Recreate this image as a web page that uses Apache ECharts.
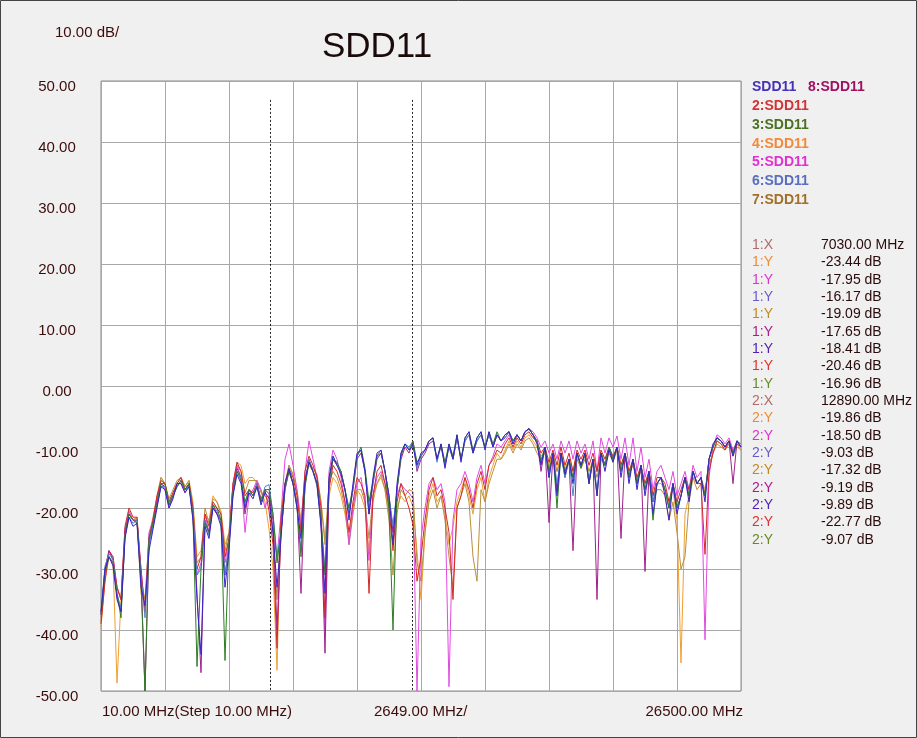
<!DOCTYPE html>
<html>
<head>
<meta charset="utf-8">
<script src="https://cdn.jsdelivr.net/npm/echarts@6/dist/echarts.min.js"></script>
<style>
html,body{margin:0;padding:0;background:#f0f0f0;}
#chart{width:917px;height:738px;}
</style>
</head>
<body>
<div id="chart"></div>
<script>
// Frequency grid (MHz): 10 MHz start, 161 samples across the 26490 MHz span
const freqStartMHz = 10;
const freqStopMHz = 26500;
const sampleCount = 161;

// Y axis tick labels (dB)
const yTicks = [50, 40, 30, 20, 10, 0, -10, -20, -30, -40, -50];

// Marker frequencies (MHz)
const marker1MHz = 7030;
const marker2MHz = 12890;

// Trace values (dB)
const sdd11_1 = [
-37,-30,-28,-29.5,-35,-37,-25,-21.5,-23,-22.5,
-33,-36,-27,-23.5,-20,-16.5,-17,-20,-18.5,-16,
-16,-17.5,-16.5,-22,-35,-44,-23,-25,-20,-21,
-23,-33,-27,-18,-14.5,-16,-20,-17.5,-18.5,-16.5,
-19.5,-17.5,-18.41,-24,-33,-25,-16,-13.5,-16,-20,
-25,-15.5,-12.5,-14,-16,-23,-34,-15,-11.5,-13,
-14.5,-17,-22,-16,-11,-10.5,-14,-21,-15,-11,
-10.5,-14,-18,-26,-16,-11,-9.5,-10.5,-9.89,-13,
-11,-10.5,-9,-8.5,-12,-9.5,-13.5,-9.5,-12,-8,
-12.5,-8.5,-7.5,-11,-8.5,-7.5,-10.5,-7.5,-10,-8,
-9,-8,-7.5,-9.5,-8,-9,-7.5,-7,-8,-9.5,
-13,-10,-15,-11,-18,-11,-14.5,-12,-16,-11,
-13,-11,-16,-12,-18,-11,-14,-10.5,-12.5,-10,
-15,-11,-16,-12,-17,-13,-18,-14,-21,-16,
-15,-18,-22,-16,-21,-18,-15,-19,-14,-16,
-15,-19,-12,-9.5,-8.5,-9,-10,-9,-11.5,-9,-10
];
const sdd11_2 = [
-39,-32,-27,-28,-33,-35,-23,-20,-21.5,-21.5,
-30,-37,-25,-22,-18,-15.5,-16,-19,-17.5,-16,
-15,-17,-16,-20,-30,-28,-21,-23,-19,-20,
-21,-28,-25,-16,-12.5,-14,-18,-17,-17.5,-16,
-18.5,-17,-20.46,-26,-43,-22,-16,-13.5,-15,-18,
-24,-14,-11.5,-13,-15,-20,-38,-17,-13,-14,
-16,-19,-24,-19,-15,-16,-18,-34,-18,-14,
-13,-16,-20,-27,-19,-16,-18,-20,-22.77,-32,
-28,-22,-17,-15,-18,-17,-20,-24,-35,-20,
-18,-15,-17,-20,-16,-14,-17,-13,-12,-10.5,
-11,-9.5,-8.5,-10,-8.5,-9.5,-8,-7.5,-8.5,-9,
-11,-10,-12.5,-10.5,-13,-10,-13,-11,-14,-10.5,
-12,-10.5,-13,-11,-14,-10.5,-12,-10,-11.5,-10,
-13,-11,-14,-12,-15,-13,-16,-14,-18,-15,
-15,-16,-19,-16,-19,-17,-15,-17,-14,-16,
-16,-27.6,-14,-11,-9,-9.5,-10.5,-9,-11,-9.5,-10
];
const sdd11_3 = [
-37.5,-30.5,-28,-29,-34,-38,-24.5,-21,-22,-22.5,
-32,-50,-25,-22.5,-19.5,-16,-16,-19.5,-18,-16.5,
-15.5,-17,-16,-21.5,-46,-30,-22.5,-24,-19.5,-20,
-22,-45,-25,-17.5,-14,-15.5,-19,-17,-18,-16.5,
-19,-17,-16.96,-21,-29,-24,-16.5,-14,-16,-20,
-28,-16.5,-12.5,-14,-16,-22,-31,-15.5,-12,-12.5,
-14,-17,-20,-16.5,-11.5,-10,-13.5,-19,-15.5,-11.5,
-11,-14,-20,-40,-17,-11.5,-9.5,-10.5,-9.07,-12.5,
-11.5,-10.5,-9,-8.5,-12,-9.5,-12.5,-9.5,-11.5,-8,
-12,-8.5,-7.5,-10.5,-8.5,-7.5,-10,-7.5,-9.5,-7.5,
-9,-8,-7.5,-9,-8,-9,-7.5,-7,-8,-9,
-12.5,-10,-14,-11,-20,-11,-14,-12,-15,-11,
-13.5,-11,-16,-12,-18,-11,-13,-10,-12,-10,
-14,-11,-15,-12,-16,-13,-17,-14,-22,-16,
-15,-17,-20,-16,-20,-18,-15,-18,-14,-16,
-15,-18,-12,-10,-8.5,-9,-10,-9,-11,-9,-10
];
const sdd11_4 = [
-39.5,-32,-28,-29,-48.7,-35,-24,-20.5,-22,-21.5,
-34,-36,-25,-22,-18.5,-15,-16,-19,-17.5,-16,
-15,-16.5,-15.5,-19,-28,-27,-21,-22,-18,-19,
-20.5,-26,-24,-16,-12.5,-13,-16,-15,-15,-16,
-17,-19,-23.44,-30,-46.6,-21,-16,-13,-14.5,-17,
-22,-15,-13,-14,-15,-19,-25,-18,-15,-16,
-18,-21,-25,-20,-17,-18,-20,-27,-19,-16,
-15,-17,-21,-26,-20,-18,-19,-18,-19.86,-27,
-35,-24,-18,-16,-19,-18,-21,-26,-23,-19,
-17,-15,-18,-21,-17,-15,-19,-15,-13,-11,
-12,-10.5,-9,-10.5,-9,-10,-8.5,-8,-9,-10,
-11.5,-10.5,-13,-11,-14,-11,-13.5,-12,-14,-11,
-13,-11,-14,-12,-14,-11,-12,-10.5,-12,-10,
-13,-11,-14,-12.5,-15,-13.5,-16,-14,-18,-16,
-16,-17,-19,-17,-22,-45.4,-21,-18,-15,-16,
-15,-17,-13,-11,-9,-9.5,-10,-9,-11,-9.5,-10.5
];
const sdd11_5 = [
-38,-30,-27,-28,-33,-35,-23.5,-20.5,-22,-22,
-30,-37,-24,-22,-18.5,-16,-17,-20,-18,-16,
-16,-17.5,-16,-22,-31,-29,-21,-24,-20,-21,
-22,-29,-25,-16,-13,-15,-24,-18,-17,-15.5,
-17,-20,-17.95,-24,-28,-21,-12,-9.5,-13,-17,
-23,-14,-9,-12,-15,-22,-40,-14,-10.5,-12,
-15,-19,-26,-20,-16,-15,-19,-28.6,-18,-15,
-14,-16,-19,-23,-18,-16,-17,-17.5,-18.5,-50,
-25,-20,-16,-15,-17,-16,-19,-49.3,-22,-17,
-16,-14,-16,-19,-15,-13,-16,-13,-11.5,-9.5,
-10,-9,-8,-9.5,-8,-9,-7.5,-7,-7.5,-8.5,
-10,-9,-11,-9.5,-12,-9,-11,-9,-12,-9,
-11,-9.5,-12,-9,-14,-8.5,-11,-8.5,-10,-8.2,
-12,-8.5,-13,-8.5,-14,-10,-15,-12,-17,-14,
-13,-15,-17,-14,-18,-16,-14,-17,-13,-15,
-14,-41.6,-15,-10,-8,-8.5,-9.5,-8.5,-10.5,-9,-9.5
];
const sdd11_6 = [
-37,-29.5,-27.5,-28.5,-34,-36.5,-24.5,-21.5,-22.5,-22,
-31,-38,-26,-23,-19.5,-16.5,-16.5,-19,-18,-16.5,
-15.5,-17,-16.5,-21,-31,-30,-22,-24.5,-19.5,-20.5,
-22.5,-31,-26,-17.5,-14,-15,-19.5,-17,-18,-16,
-19,-16.5,-16.17,-21,-28,-24,-17,-13.5,-16,-19.5,
-27,-16.5,-12,-14,-16.5,-22.5,-30,-16,-11.5,-13,
-14,-17,-20.5,-17,-11.5,-10.5,-14,-20,-16,-11.5,
-10.5,-14,-18,-23,-17,-11,-9.5,-10,-9.03,-13.5,
-11.5,-10.5,-9,-8.5,-12.5,-9.5,-13,-10,-12,-8.5,
-12,-9,-8,-11,-9,-8,-10,-8,-10,-8,
-9,-8.5,-7.5,-9,-8,-9,-7.5,-7,-8,-9,
-12,-10.5,-15,-11,-16,-11.5,-15,-12,-18,-11,
-13,-11.5,-15,-12,-17,-11,-13,-10,-12,-10,
-14,-11,-15,-12,-16,-13,-17,-14,-19,-16,
-15,-17,-20,-16,-20,-18,-15,-18,-14,-16,
-15,-18,-12,-10,-8.5,-9,-10,-9,-11,-9,-10
];
const sdd11_7 = [
-38.5,-31.5,-28,-29,-33,-35,-24,-21,-22,-21.5,
-32,-35,-24.5,-21.5,-18,-15,-16,-18.5,-17,-15.5,
-15,-16.5,-15.5,-20,-29,-28,-20,-22.5,-18.5,-19,
-21,-27,-24,-16.5,-13,-14,-17.5,-15.5,-15.5,-15.5,
-17.5,-18,-19.09,-24,-35,-22,-16,-13,-14.5,-17.5,
-23,-15,-12.5,-13.5,-14.5,-19,-26,-16,-14,-15,
-17,-20,-26,-21,-17,-17,-19,-25,-18,-16,
-14.5,-17,-22,-31,-21,-17,-18,-17,-17.32,-29,
-32,-24,-19,-17,-20,-18,-22,-28,-33,-20,
-18,-16,-19,-28,-32,-17,-19,-16,-14,-12,
-12,-11,-9.5,-11,-9.5,-10.5,-9,-8.5,-9.5,-11,
-12,-11,-13.5,-11.5,-14,-12,-14,-12.5,-15,-12,
-13.5,-12,-14,-12.5,-15,-12,-13,-11,-12.5,-10.5,
-13.5,-12,-14.5,-13,-15.5,-14,-17,-15,-19,-17,
-17,-18,-22,-19,-24,-30,-28,-19,-15,-17,
-16,-17.5,-13,-11,-9.5,-10,-10.5,-9.5,-11.5,-10,-10.5
];
const sdd11_8 = [
-37.5,-30,-27,-28.5,-34.5,-37,-24,-21,-22,-22,
-31,-50,-25.5,-23,-19,-16,-16.5,-19.5,-18,-16.5,
-15.5,-17,-16,-21,-34,-47,-22,-24,-19.5,-21,
-22,-31,-26,-17,-13.5,-15,-21,-17,-18,-16,
-19,-17,-17.65,-22,-40,-24,-17,-14,-16,-19,
-34,-16,-12,-14,-16,-22,-43.8,-16,-12,-13,
-14,-17,-21,-17,-12,-11,-14,-21,-16,-12,
-11,-14,-18,-24,-17,-12,-10,-11,-9.19,-14,
-12,-11,-9.5,-9,-12,-10,-13,-10,-12,-8.5,
-12,-9,-8,-11,-9,-8,-10,-8,-10,-8,
-9,-8.5,-7.5,-9,-8,-9,-7.5,-7,-8,-9,
-14,-10,-22.4,-11,-17,-11,-15,-12,-27,-11,
-13,-11,-16,-12,-35,-11,-13,-10,-12,-10,
-25,-11,-15,-12,-16,-13,-30.4,-14,-19,-16,
-15,-17,-20,-16,-20,-18,-15,-18,-14,-16,
-15,-18,-12,-10,-8.5,-9,-10,-9,-16,-9,-10
];

// Legend entries and colours
const legendNames = ['SDD11','2:SDD11','3:SDD11','4:SDD11','5:SDD11','6:SDD11','7:SDD11','8:SDD11'];
const lineColors = ['#3a22c8','#d42828','#2e7d24','#f0a030','#e04ae0','#4a86c8','#b8903c','#a0208c'];
const legendColors = ['#4630b8','#d03535','#4a7020','#f08a3a','#e030d0','#5a6ec0','#a07028','#a01060'];

// Marker readout table
const m1Labels = ['1:X','1:Y','1:Y','1:Y','1:Y','1:Y','1:Y','1:Y','1:Y'];
const m1Values = ['7030.00 MHz','-23.44 dB','-17.95 dB','-16.17 dB','-19.09 dB','-17.65 dB','-18.41 dB','-20.46 dB','-16.96 dB'];
const m2Labels = ['2:X','2:Y','2:Y','2:Y','2:Y','2:Y','2:Y','2:Y','2:Y'];
const m2Values = ['12890.00 MHz','-19.86 dB','-18.50 dB','-9.03 dB','-17.32 dB','-9.19 dB','-9.89 dB','-22.77 dB','-9.07 dB'];
const markerLabelColors = ['#b06a6a','#f08a30','#e030d0','#6a5ac8','#c08a20','#b01890','#5020b0','#e03030','#6a8a20'];

// X labels
const xLabelLeft = '10.00 MHz(Step 10.00 MHz)';
const xLabelMid = '2649.00 MHz/';
const xLabelRight = '26500.00 MHz';

const traces = [sdd11_1,sdd11_2,sdd11_3,sdd11_4,sdd11_5,sdd11_6,sdd11_7,sdd11_8];
const span = freqStopMHz - freqStartMHz;
const step = span / (sampleCount - 1);

function toData(vals){
  return vals.map((v,k)=>[k*step, v]);
}

const drawOrder = [3,6,4,1,7,5,2,0];
const series = drawOrder.map((idx, n) => {
  const s = {
    type:'line', name:legendNames[idx], data:toData(traces[idx]),
    symbol:'none', animation:false, silent:true,
    lineStyle:{width:1, color:lineColors[idx]},
    itemStyle:{color:lineColors[idx]},
    z: 2 + n
  };
  if (n === 0) {
    s.markLine = {
      symbol:['none','none'], silent:true, animation:false,
      label:{show:false},
      lineStyle:{type:[2,2], color:'#222', width:1},
      data:[
        [{coord:[marker1MHz-freqStartMHz, 46.9]},{coord:[marker1MHz-freqStartMHz, -50]}],
        [{coord:[marker2MHz-freqStartMHz, 46.9]},{coord:[marker2MHz-freqStartMHz, -50]}]
      ]
    };
  }
  return s;
});

const textColor = '#3c0c0c';
const baseFont = '"Liberation Sans", Arial, sans-serif';
const graphics = [];
graphics.push({type:'rect', shape:{x:0.5,y:0.5,width:916,height:737}, style:{fill:'none', stroke:'#444', lineWidth:1}, z:0, silent:true});
graphics.push({type:'text', left:55, top:25, style:{text:'10.00 dB/', fill:textColor, font:'15px ' + baseFont}});
graphics.push({type:'text', left:102, top:704, style:{text:xLabelLeft, fill:textColor, font:'15px ' + baseFont}});
graphics.push({type:'text', left:374, top:704, style:{text:xLabelMid, fill:textColor, font:'15px ' + baseFont}});
graphics.push({type:'text', right:917-743, top:704, style:{text:xLabelRight, fill:textColor, font:'15px ' + baseFont}});

// legend block
const legendFont = 'bold 14px ' + baseFont;
graphics.push({type:'text', left:752, top:80, style:{text:legendNames[0], fill:legendColors[0], font:legendFont}});
graphics.push({type:'text', left:808, top:80, style:{text:legendNames[7], fill:legendColors[7], font:legendFont}});
for (let k=1;k<=6;k++){
  graphics.push({type:'text', left:752, top:80+k*18.9, style:{text:legendNames[k], fill:legendColors[k], font:legendFont}});
}
// marker readouts
const mFont = '14px ' + baseFont;
for (let k=0;k<9;k++){
  const y1 = 238 + k*17.35;
  graphics.push({type:'text', left:752, top:y1, style:{text:m1Labels[k], fill:markerLabelColors[k], font:mFont}});
  graphics.push({type:'text', left:821, top:y1, style:{text:m1Values[k], fill:'#2a0a0a', font:mFont}});
  const y2 = 394 + k*17.35;
  graphics.push({type:'text', left:752, top:y2, style:{text:m2Labels[k], fill:markerLabelColors[k], font:mFont}});
  graphics.push({type:'text', left:821, top:y2, style:{text:m2Values[k], fill:'#2a0a0a', font:mFont}});
}

const chart = echarts.init(document.getElementById('chart'), null, {renderer:'canvas'});
chart.setOption({
  backgroundColor:'#f0f0f0',
  animation:false,
  title:{text:'SDD11', left:372, top:25, textAlign:'center',
    textStyle:{fontSize:35, fontWeight:'normal', color:'#1a0a0a', fontFamily:baseFont}},
  grid:{left:101, top:81, width:640, height:610, show:true, backgroundColor:'#ffffff', borderColor:'#8a8a8a', borderWidth:1},
  xAxis:{type:'value', min:0, max:span, interval:span/10,
    axisLine:{show:false}, axisTick:{show:false}, axisLabel:{show:false},
    splitLine:{show:true, lineStyle:{color:'#a8a8a8', width:1}}},
  yAxis:{type:'value', min:yTicks[yTicks.length-1], max:yTicks[0], interval:10,
    axisLine:{show:false}, axisTick:{show:false},
    axisLabel:{show:true, margin:44, align:'center', verticalAlign:'top', lineHeight:12,
      color:textColor, fontSize:15, fontFamily:baseFont,
      formatter:(v)=>v.toFixed(2)},
    splitLine:{show:true, lineStyle:{color:'#a8a8a8', width:1}}},
  series: series,
  graphic: graphics
});
</script>
</body>
</html>
